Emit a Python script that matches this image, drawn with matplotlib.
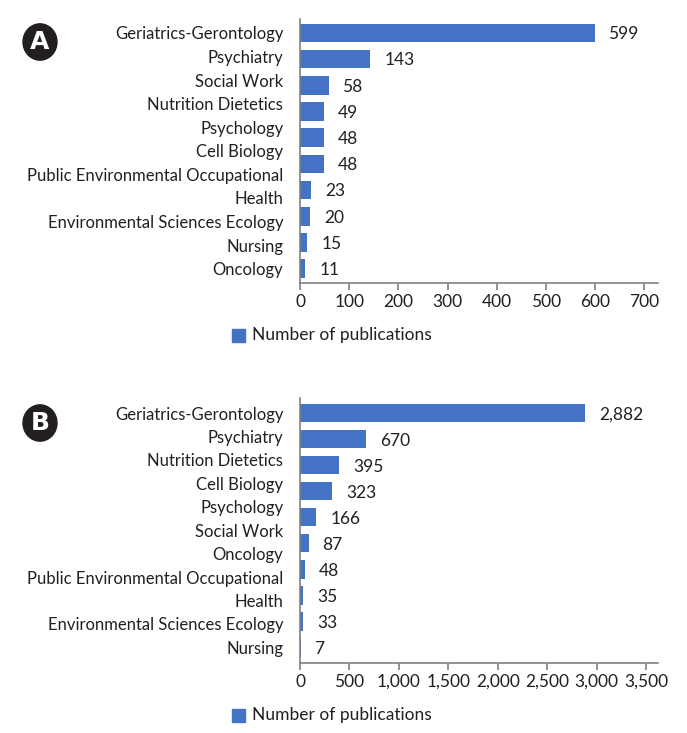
import numpy as np
import matplotlib.pyplot as plt
from matplotlib.patches import Circle

plt.rcParams['font.family'] = ['Lato', 'DejaVu Sans']

# panel A
cats_a = ["Geriatrics-Gerontology", "Psychiatry", "Social Work", "Nutrition Dietetics",
          "Psychology", "Cell Biology", "Public Environmental Occupational", "Health",
          "Environmental Sciences Ecology", "Nursing", "Oncology"]
vals_a = [599, 143, 58, 49, 48, 48, 23, 20, 15, 11]
ticks_a = [0, 100, 200, 300, 400, 500, 600, 700]

# panel B
cats_b = ["Geriatrics-Gerontology", "Psychiatry", "Nutrition Dietetics", "Cell Biology",
          "Psychology", "Social Work", "Oncology", "Public Environmental Occupational",
          "Health", "Environmental Sciences Ecology", "Nursing"]
vals_b = [2882, 670, 395, 323, 166, 87, 48, 35, 33, 7]
ticks_b = [0, 500, 1000, 1500, 2000, 2500, 3000, 3500]

W, H = 687, 733
BLUE = '#4472C4'
GRAY = '#808080'
TXT = '#231F20'

fig = plt.figure(figsize=(W / 100, H / 100), dpi=100)


def px_axes(left, top, right, bottom):
    return fig.add_axes([left / W, 1 - bottom / H, (right - left) / W, (bottom - top) / H])


def panel(ax, cats, vals, ticks, xmax, ylim, fmt):
    y = np.arange(len(vals))
    ax.barh(y, vals, height=0.71, color=BLUE)
    # the original spreads its category labels evenly over the bar range
    ax.set_yticks(np.linspace(0, len(vals) - 1, len(cats)))
    ax.set_yticklabels(cats, fontsize=12, color=TXT)
    ax.set_ylim(*ylim)
    ax.set_xlim(0, xmax)
    ax.set_xticks(ticks)
    ax.set_xticklabels([fmt(t) for t in ticks], fontsize=12.5, color=TXT)
    for yi, v in zip(y, vals):
        ax.annotate(f"{v:,}", (v, yi), xytext=(10, -1), textcoords='offset points',
                    va='center', ha='left', fontsize=12.5, color=TXT)
    for s in ['top', 'right']:
        ax.spines[s].set_visible(False)
    for s in ['left', 'bottom']:
        ax.spines[s].set_color(GRAY)
        ax.spines[s].set_linewidth(1.2)
    ax.tick_params(axis='y', length=0, pad=12)
    ax.tick_params(axis='x', length=5, width=1.2, color=GRAY, pad=3)


ax_a = px_axes(300, 19, 658, 283)
panel(ax_a, cats_a, vals_a, ticks_a, 728, (9.55, -0.53), lambda t: f"{t}")

ax_b = px_axes(300, 398, 658, 663)
panel(ax_b, cats_b, vals_b, ticks_b, 3621, (9.6, -0.58), lambda t: f"{t:,}")

# legends
for ly in [335, 715]:
    fig.patches.append(plt.Rectangle((232 / W, 1 - (ly + 7) / H), 13 / W, 13 / H,
                                     transform=fig.transFigure, color=BLUE))
    fig.text(252 / W, 1 - ly / H, "Number of publications", fontsize=12.5, color=TXT,
             va='center', ha='left')

# panel letters
for letter, cy in [("A", 42), ("B", 423)]:
    fig.patches.append(Circle((40 / W, 1 - cy / H), 17 / W, transform=fig.transFigure,
                              color='#231F20'))
    fig.text(40 / W, 1 - cy / H, letter, fontsize=18, fontweight='bold', color='white',
             ha='center', va='center', family='DejaVu Sans')

fig.savefig('out.png', dpi=100)
